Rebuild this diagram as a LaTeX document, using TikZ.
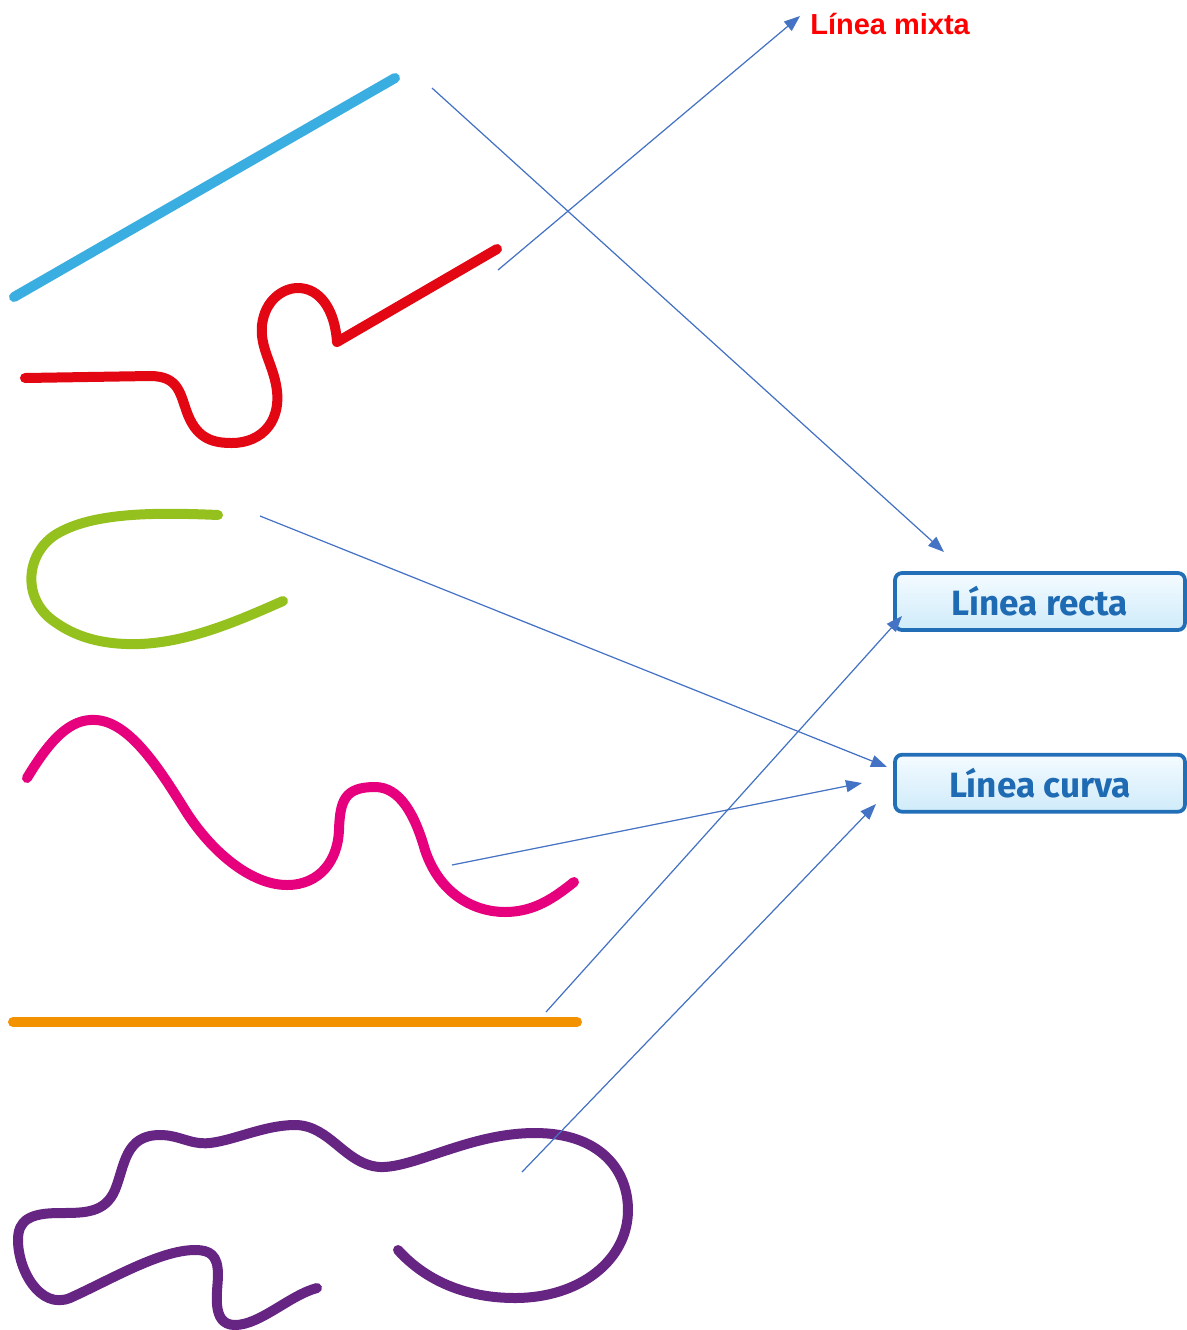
\documentclass[tikz,border=0pt]{standalone}
\usepackage{fontspec}
\setmainfont{Liberation Sans}
\newfontfamily\boxfont{Fira Sans}
\usetikzlibrary{arrows.meta,positioning}
\definecolor{lineblue}{HTML}{3AADE1}
\definecolor{linered}{HTML}{E30613}
\definecolor{linegreen}{HTML}{95C11F}
\definecolor{linepink}{HTML}{E6007E}
\definecolor{lineorange}{HTML}{F39200}
\definecolor{linepurple}{HTML}{662483}
\definecolor{arrowblue}{HTML}{4472C4}
\definecolor{boxborder}{HTML}{226FB7}
\definecolor{boxtext}{HTML}{1E6BB3}
\definecolor{boxtop}{HTML}{F4FBFF}
\definecolor{boxbottom}{HTML}{CFEBFA}
\tikzset{
  stroke/.style={line width=0.2cm, line cap=round, line join=round},
  tag/.style={draw=boxborder, line width=0.075cm, rounded corners=0.14cm, minimum width=5.8cm, minimum height=1.14cm, top color=boxtop, bottom color=boxbottom, text=boxtext, font=\boxfont\bfseries\fontsize{20}{24}\selectfont},
  flow/.style={-{Triangle[length=0.32cm, width=0.24cm]}, line width=0.7pt, draw=arrowblue}
}
\begin{document}
\begin{tikzpicture}[x=0.02cm, y=-0.02cm]
  \useasboundingbox (0,0) rectangle (1187,1330);

  % the six lines
  \draw[stroke, lineblue] (14,297) -- (395,78);
  \draw[stroke, linered] (25,378) -- (150,376) .. controls (180,376) and (180,395) .. (188,415)
    .. controls (198,440) and (215,443) .. (232,443) .. controls (262,443) and (285,420) .. (275,380)
    .. controls (270,360) and (260,345) .. (262,325) .. controls (265,300) and (283,288) .. (298,288)
    .. controls (320,288) and (335,310) .. (337,342) -- (497,249);
  \draw[stroke, linegreen] (218,515) .. controls (150,512) and (90,513) .. (55,535)
    .. controls (25,555) and (22,600) .. (55,622) .. controls (80,640) and (110,645) .. (140,644)
    .. controls (190,642) and (240,620) .. (283,601);
  \draw[stroke, linepink] (27,778) .. controls (50,740) and (70,718) .. (96,720)
    .. controls (130,722) and (160,770) .. (185,810) .. controls (210,850) and (250,885) .. (287,885)
    .. controls (320,885) and (338,860) .. (339,830) .. controls (340,800) and (345,787) .. (375,787)
    .. controls (400,787) and (415,815) .. (425,850) .. controls (440,895) and (475,912) .. (505,912)
    .. controls (535,912) and (555,897) .. (574,882);
  \draw[stroke, lineorange] (13,1022) -- (577,1022);
  \draw[stroke, linepurple] (317,1288) .. controls (290,1295) and (260,1325) .. (235,1325)
    .. controls (210,1325) and (218,1290) .. (218,1275) .. controls (218,1255) and (210,1250) .. (195,1250)
    .. controls (160,1250) and (110,1280) .. (70,1298) .. controls (40,1310) and (18,1270) .. (18,1240)
    .. controls (18,1220) and (30,1213) .. (60,1213) .. controls (85,1213) and (105,1213) .. (115,1190)
    .. controls (125,1165) and (125,1135) .. (160,1135) .. controls (180,1135) and (190,1145) .. (210,1143)
    .. controls (235,1140) and (265,1125) .. (295,1125) .. controls (330,1125) and (345,1165) .. (380,1167)
    .. controls (415,1168) and (470,1133) .. (535,1133) .. controls (600,1133) and (628,1170) .. (628,1210)
    .. controls (628,1260) and (580,1298) .. (515,1298) .. controls (465,1298) and (425,1280) .. (398,1250);

  % labels
  \node[anchor=west, inner sep=0pt, text=red, font=\bfseries\fontsize{16.5}{20}\selectfont] (mixta) at (810,24) {Línea mixta};
  \node[tag] (recta) at (1040,601.5) {Línea recta};
  \node[tag, below=2.42cm of recta] (curva) {Línea curva};

  % arrow ends
  \coordinate (s1) at (432,88);   \coordinate (e1) at (944,552);
  \coordinate (s2) at (498,270);  \coordinate (e2) at (800,16);
  \coordinate (s3) at (260,516);  \coordinate (e3) at (887,767);
  \coordinate (s4) at (452,865);  \coordinate (e4) at (862,783);
  \coordinate (s5) at (546,1012); \coordinate (e5) at (902,616);
  \coordinate (s6) at (522,1172); \coordinate (e6) at (876,804);

  \draw[flow] (s1) -- (e1);
  \draw[flow] (s2) -- (e2);
  \draw[flow] (s3) -- (e3);
  \draw[flow] (s4) -- (e4);
  \draw[flow] (s5) -- (e5);
  \draw[flow] (s6) -- (e6);
\end{tikzpicture}
\end{document}
